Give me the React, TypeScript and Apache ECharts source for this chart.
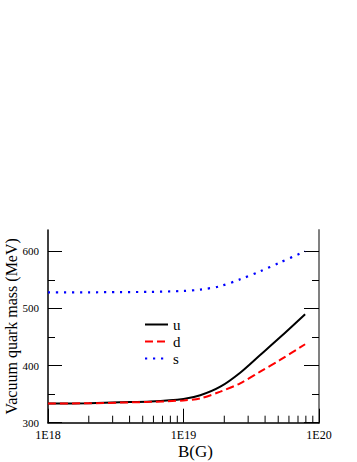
import React, { useEffect, useRef } from "react";
import * as echarts from "echarts";

const bValues = [1e18, 2e18, 3.4e18, 5.7e18, 1e19, 1.33e19, 1.87e19, 2.62e19, 3.68e19, 5.16e19, 7.9e19];
const uMass = [333.5, 334.2, 335.7, 337, 341.5, 348, 363, 387.5, 418.5, 449.5, 490];
const dMass = [333.5, 334, 335.2, 336.5, 339, 342.7, 354.3, 369, 389.3, 409.8, 437.3];
const sMass = [528, 528.2, 528.6, 529, 530.6, 533, 539, 551, 565, 580.5, 600];
const majorYTicks = [300, 400, 500, 600];
const minorYTicks = [350, 450, 550];
const minorXTicks = [2e18, 3e18, 4e18, 5e18, 6e18, 7e18, 8e18, 9e18, 2e19, 3e19, 4e19, 5e19, 6e19, 7e19, 8e19, 9e19];

const FONT = "'Liberation Serif', 'Times New Roman', serif";

export default function App() {
  const ref = useRef<HTMLDivElement>(null);
  useEffect(() => {
    const chart = echarts.init(ref.current!, null, { renderer: "svg" });
    const yMin = 300;
    const yMax = 637.3;
    const yBase = {
      type: "value",
      min: yMin,
      max: yMax,
      interval: 100,
      splitLine: { show: false },
    };
    chart.setOption({
      animation: false,
      backgroundColor: "#fff",
      grid: { left: 48, right: 38, top: 230, bottom: 39.3, containLabel: false, outerBoundsMode: "none" },
      legend: {
        orient: "vertical",
        left: 144,
        top: 317,
        padding: 0,
        itemWidth: 23,
        itemHeight: 14,
        itemGap: 2,
        data: ["u", "d", "s"],
        itemStyle: { opacity: 0 },
        textStyle: { fontFamily: FONT, fontSize: 15, lineHeight: 14, color: "#000" },
      },
      xAxis: [
        {
          type: "log",
          logBase: 10,
          min: 1e18,
          max: 1e20,
          splitLine: { show: false },
          axisLine: { lineStyle: { color: "#000", width: 1.5 } },
          axisTick: { inside: true, length: 14, lineStyle: { color: "#000" } },
          axisLabel: {
            fontFamily: FONT,
            fontSize: 12,
            color: "#000",
            margin: 6,
            formatter: (v: number) => "1E" + Math.round(Math.log10(v)),
          },
          name: "B(G)",
          nameLocation: "middle",
          nameGap: 20,
          nameMoveOverlap: false,
          nameTextStyle: { fontFamily: FONT, fontSize: 17, color: "#000", padding: [0, 0, 0, 24] },
        },
      ],
      yAxis: [
        {
          ...yBase,
          position: "left",
          axisLine: { show: true, lineStyle: { color: "#000", width: 1.5 } },
          axisTick: { inside: true, length: 14, customValues: majorYTicks, lineStyle: { color: "#000" } },
          axisLabel: { fontFamily: FONT, fontSize: 11, color: "#000", margin: 9, customValues: majorYTicks },
          name: "Vacuum quark mass (MeV)",
          nameLocation: "middle",
          nameGap: 29,
          nameMoveOverlap: false,
          nameTextStyle: { fontFamily: FONT, fontSize: 16, color: "#000" },
        },
        {
          ...yBase,
          position: "left",
          axisLine: { show: false },
          axisTick: { inside: true, length: 7, customValues: minorYTicks, lineStyle: { color: "#000" } },
          axisLabel: { show: false },
        },
        {
          ...yBase,
          position: "right",
          axisLine: { show: true, lineStyle: { color: "#808080", width: 2 } },
          axisTick: { inside: true, length: 15, customValues: majorYTicks, lineStyle: { color: "#000" } },
          axisLabel: { show: false },
        },
        {
          ...yBase,
          position: "right",
          axisLine: { show: false },
          axisTick: { inside: true, length: 7, customValues: minorYTicks, lineStyle: { color: "#000" } },
          axisLabel: { show: false },
        },
      ],
      series: [
        {
          name: "u",
          type: "line",
          data: bValues.map((b, i) => [b, uMass[i]]),
          showSymbol: false,
          symbol: "none",
          smooth: 0.3,
          lineStyle: { color: "#000", width: 2, type: "solid" },
          itemStyle: { color: "#000" },
        },
        {
          name: "d",
          type: "line",
          data: bValues.map((b, i) => [b, dMass[i]]),
          showSymbol: false,
          symbol: "none",
          smooth: 0.3,
          lineStyle: { color: "#ff0000", width: 2, type: [8, 4] },
          itemStyle: { color: "#ff0000" },
        },
        {
          name: "s",
          type: "line",
          data: bValues.map((b, i) => [b, sMass[i]]),
          showSymbol: false,
          symbol: "none",
          smooth: 0.3,
          lineStyle: { color: "#0000ff", width: 2.2, type: [2.2, 5.8] },
          itemStyle: { color: "#0000ff" },
        },
        {
          type: "custom",
          silent: true,
          data: minorXTicks.map((v) => [v, yMin]),
          renderItem: (params: any, api: any) => {
            const p = api.coord([api.value(0), api.value(1)]);
            return {
              type: "line",
              shape: { x1: p[0], y1: p[1], x2: p[0], y2: p[1] - 7 },
              style: { stroke: "#000", lineWidth: 1 },
            };
          },
        },
      ],
    });
    return () => chart.dispose();
  }, []);
  return (
    <div
      ref={ref}
      style={{ position: "absolute", left: 0, top: 0, width: 357, height: 462 }}
    />
  );
}
